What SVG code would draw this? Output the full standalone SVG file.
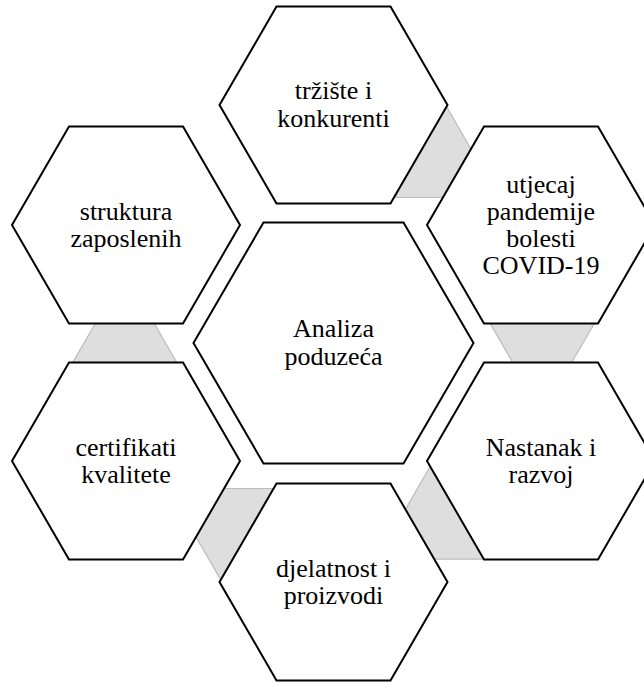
<svg xmlns="http://www.w3.org/2000/svg" xmlns:xlink="http://www.w3.org/1999/xlink" width="644" height="682" viewBox="0 0 644 682">
<style>
.hex{fill:#ffffff;stroke:#000000;stroke-width:2;stroke-linejoin:miter}
.conn{fill:#dedede;stroke:#bcbcbc;stroke-width:1.2}
.t{font-family:"Liberation Serif","Times New Roman",serif;font-size:26px;fill:#000000;text-anchor:middle}
</style>
<defs>
<polygon id="outer" class="hex" points="-114,0 -57,-98.5 57,-98.5 114,0 57,98.5 -57,98.5"/>
<polygon id="conn" class="conn" points="97,320.5 152.5,320.5 178.5,365.5 71,365.5"/>
</defs>
<g id="connectors">
<use xlink:href="#conn" href="#conn"/>
<use xlink:href="#conn" href="#conn" transform="rotate(120 333.5 343)"/>
<use xlink:href="#conn" href="#conn" transform="rotate(180 333.5 343)"/>
<use xlink:href="#conn" href="#conn" transform="rotate(240 333.5 343)"/>
<use xlink:href="#conn" href="#conn" transform="rotate(300 333.5 343)"/>
</g>
<g id="center">
<polygon class="hex" points="193.5,343 263.5,222.5 403.5,222.5 473.5,343 403.5,463.5 263.5,463.5"/>
<text class="t" x="333.5" y="337">Analiza</text>
<text class="t" x="333.5" y="365">poduzeća</text>
</g>
<g id="trziste">
<use xlink:href="#outer" href="#outer" transform="translate(333.5 105)"/>
<text class="t" x="333.5" y="99">tržište i</text>
<text class="t" x="333.5" y="127">konkurenti</text>
</g>
<g id="utjecaj">
<use xlink:href="#outer" href="#outer" transform="translate(541 225)"/>
<text class="t" x="541" y="192.5">utjecaj</text>
<text class="t" x="541" y="219.5">pandemije</text>
<text class="t" x="541" y="246.5">bolesti</text>
<text class="t" x="541" y="273.5">COVID-19</text>
</g>
<g id="nastanak">
<use xlink:href="#outer" href="#outer" transform="translate(541 461)"/>
<text class="t" x="541" y="456">Nastanak i</text>
<text class="t" x="541" y="483">razvoj</text>
</g>
<g id="djelatnost">
<use xlink:href="#outer" href="#outer" transform="translate(333.5 582)"/>
<text class="t" x="333.5" y="577">djelatnost i</text>
<text class="t" x="333.5" y="604">proizvodi</text>
</g>
<g id="certifikati">
<use xlink:href="#outer" href="#outer" transform="translate(126 461)"/>
<text class="t" x="126" y="456">certifikati</text>
<text class="t" x="126" y="483">kvalitete</text>
</g>
<g id="struktura">
<use xlink:href="#outer" href="#outer" transform="translate(126 225)"/>
<text class="t" x="126" y="220">struktura</text>
<text class="t" x="126" y="247">zaposlenih</text>
</g>
</svg>
